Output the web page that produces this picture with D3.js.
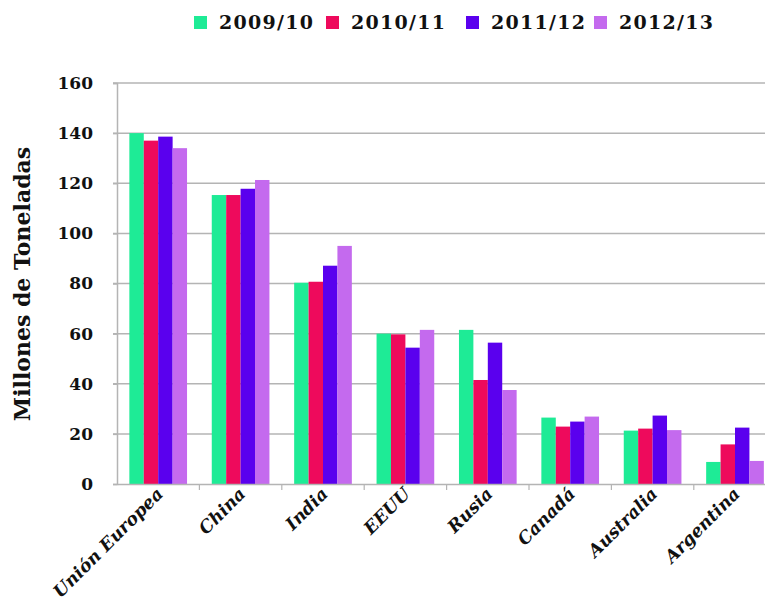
<!DOCTYPE html>
<html>
<head>
<meta charset="utf-8">
<script src="https://cdn.jsdelivr.net/npm/d3@7"></script>
<style>
  html, body { margin: 0; padding: 0; background: #fff; }
  svg { display: block; }
</style>
</head>
<body>
<svg id="chart" width="765" height="603"></svg>
<script>
// Producción por región y campaña (millones de toneladas)
const categories = ["Unión Europea", "China", "India", "EEUU", "Rusia", "Canadá", "Australia", "Argentina"];
const seasons = ["2009/10", "2010/11", "2011/12", "2012/13"];
const v2009 = [140, 115.3, 80.3, 60, 61.5, 26.5, 21.3, 8.8];
const v2010 = [137, 115.3, 80.7, 59.7, 41.5, 22.9, 22.1, 15.8];
const v2011 = [138.6, 117.8, 87.1, 54.4, 56.4, 24.9, 27.3, 22.5];
const v2012 = [134, 121.3, 95, 61.5, 37.5, 26.9, 21.5, 9.2];
const yTicks = [0, 20, 40, 60, 80, 100, 120, 140, 160];
const colors = ["#1eeb96", "#ee0a5c", "#5a00ee", "#c46aee"];

const series = [v2009, v2010, v2011, v2012];
const rows = categories.map((c, i) => ({ cat: c, vals: series.map(s => s[i]) }));

const svg = d3.select("#chart");
const plotLeft = 117, plotTop = 83, plotBottom = 484, bandW = 82.4;
const FONT = "'DejaVu Serif', 'Liberation Serif', serif";

const y = d3.scaleLinear().domain([0, 160]).range([plotBottom, plotTop]);
const x = d3.scaleBand().domain(categories).range([plotLeft, plotLeft + bandW * categories.length]).padding(0);
const xs = d3.scaleBand().domain(seasons).range([x.bandwidth() * 0.15, x.bandwidth() * 0.85]).padding(0);

// Gridlines
svg.append("g")
  .selectAll("line")
  .data(yTicks.filter(t => t > 0))
  .join("line")
  .attr("x1", plotLeft - 4).attr("x2", 765)
  .attr("y1", d => y(d)).attr("y2", d => y(d))
  .attr("stroke", "#b4b4b4").attr("stroke-width", 1.5);

// Bars
const groups = svg.append("g")
  .selectAll("g")
  .data(rows)
  .join("g")
  .attr("transform", d => `translate(${x(d.cat)},0)`);

groups.selectAll("rect")
  .data(d => d.vals.map((v, i) => ({ key: seasons[i], v, i })))
  .join("rect")
  .attr("x", d => xs(d.key))
  .attr("width", xs.bandwidth())
  .attr("y", d => y(d.v))
  .attr("height", d => y(0) - y(d.v))
  .attr("fill", d => colors[d.i]);

// Y axis
const yAxis = svg.append("g")
  .attr("transform", `translate(${plotLeft},0)`)
  .call(d3.axisLeft(y).tickValues(yTicks).tickSize(4).tickPadding(20));
yAxis.select(".domain").attr("stroke", "#b4b4b4").attr("stroke-width", 1.5);
yAxis.selectAll(".tick line").attr("stroke", "#b4b4b4").attr("stroke-width", 1.5);
yAxis.selectAll(".tick text")
  .attr("font-family", FONT).attr("font-weight", "bold")
  .attr("font-size", 17).attr("fill", "#111");

// X axis
const xAxis = svg.append("g")
  .attr("transform", `translate(0,${plotBottom})`)
  .call(d3.axisBottom(x).tickSize(0).tickFormat(""));
xAxis.select(".domain").attr("stroke", "#b4b4b4").attr("stroke-width", 1.5);
xAxis.selectAll(".tick").remove();

// Tick marks at band boundaries
svg.append("g")
  .selectAll("line")
  .data(categories.slice(1))
  .join("line")
  .attr("x1", d => x(d)).attr("x2", d => x(d))
  .attr("y1", plotBottom).attr("y2", plotBottom + 6)
  .attr("stroke", "#b4b4b4").attr("stroke-width", 1.2);

// Category labels, rotated
svg.append("g")
  .selectAll("text")
  .data(categories)
  .join("text")
  .attr("transform", d => `translate(${x(d) + x.bandwidth() / 2 + 6},${plotBottom + 11}) rotate(-45)`)
  .attr("text-anchor", "end")
  .attr("font-family", FONT).attr("font-weight", "bold").attr("font-style", "italic")
  .attr("font-size", 17.5).attr("fill", "#111")
  .text(d => d);

// Y axis title
svg.append("text")
  .attr("transform", `translate(30,${(145 + 423) / 2}) rotate(-90)`)
  .attr("text-anchor", "middle")
  .attr("font-family", FONT).attr("font-weight", "bold")
  .attr("font-size", 22).attr("fill", "#111")
  .text("Millones de Toneladas");

// Legend
const legendX = [194, 326, 466, 594];
const legend = svg.append("g")
  .selectAll("g")
  .data(seasons)
  .join("g")
  .attr("transform", (d, i) => `translate(${legendX[i]},0)`);
legend.append("rect")
  .attr("x", 0).attr("y", 16).attr("width", 13).attr("height", 13)
  .attr("fill", (d, i) => colors[i]);
legend.append("text")
  .attr("x", 25).attr("y", 29)
  .attr("font-family", FONT).attr("font-weight", "bold")
  .attr("font-size", 19).attr("letter-spacing", 1.3).attr("fill", "#111")
  .text(d => d);
</script>
</body>
</html>
